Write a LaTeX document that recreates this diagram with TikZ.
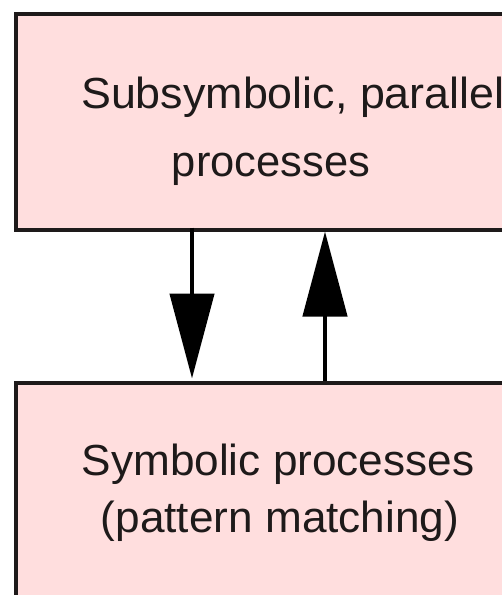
\documentclass[tikz,border=0pt]{standalone}
\usepackage{fontspec}
\setmainfont{Liberation Sans}
\usetikzlibrary{arrows.meta}

\definecolor{boxfill}{RGB}{255,222,222}
\definecolor{boxline}{RGB}{30,26,26}

\tikzset{
  layerbox/.style={draw=boxline, fill=boxfill, line width=4pt, rectangle,
    inner sep=0pt, anchor=north west, minimum width=600pt},
  label/.style={inner sep=0pt, text=boxline, font=\fontsize{43.5}{50}\selectfont},
  wide/.style={font=\fontsize{43.5}{50}\selectfont\addfontfeature{FakeStretch=#1}},
  flow/.style={draw=black, line width=4.5pt,
    -{Triangle[length=85pt,width=44pt]}},
}

\begin{document}
\begin{tikzpicture}[x=1pt, y=-1pt]
  \useasboundingbox (0,0) rectangle (502,595);
  \clip (0,0) rectangle (502,595);

  % upper layer
  \node[layerbox, minimum height=216pt] (sub) at (13.5,11.5) {};
  \node[label, wide=1.03, anchor=base west] (subA) at (81,108) {Subsymbolic, parallel};
  \node[label, anchor=base] (subB) at (271,176) {processes};

  % lower layer
  \node[layerbox, minimum height=320pt] (sym) at (13.5,380.5) {};
  \node[label, wide=1.015, anchor=base] (symA) at (278,475) {Symbolic processes};
  \node[label, wide=1.015, anchor=base] (symB) at (280,532) {(pattern matching)};

  % interaction between the layers
  \coordinate (dnTop) at (192,227.5);
  \coordinate (dnBot) at (192,380.5);
  \coordinate (upTop) at (325,227.5);
  \coordinate (upBot) at (325,380.5);
  \draw[flow, shorten >=2pt] (dnTop) -- (dnBot);
  \draw[flow, shorten >=4pt] (upBot) -- (upTop);
\end{tikzpicture}
\end{document}
